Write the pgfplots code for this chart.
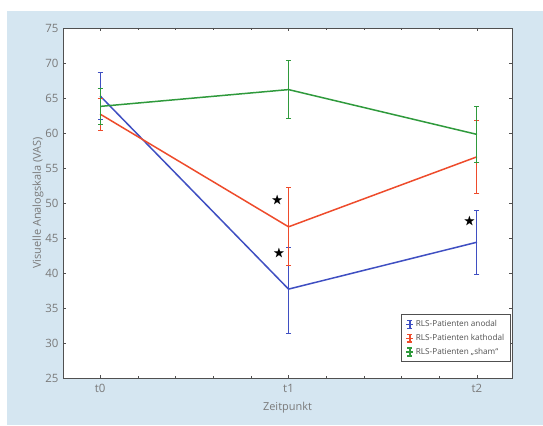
\documentclass[border=0pt]{standalone}
\usepackage{pgfplots}
\pgfplotsset{compat=1.18}
\usepackage{amssymb}
\usepackage{fontspec}
\setmainfont{Open Sans}
\definecolor{bgblue}{HTML}{D5E6F1}
\definecolor{cblue}{HTML}{3F4FC2}
\definecolor{cred}{HTML}{EE4B2B}
\definecolor{cgreen}{HTML}{2F9A3C}
\definecolor{txtgray}{HTML}{7A7A7A}
\definecolor{framegray}{HTML}{505050}
\begin{document}
\begin{tikzpicture}[x=1bp,y=1bp]
\useasboundingbox (0,0) rectangle (543,425);
\fill[white] (0,0) rectangle (543,425);
\fill[bgblue] (7,0) rectangle (543,414);
\begin{axis}[
  at={(63bp,47bp)}, anchor=south west,
  width=449bp, height=350bp, scale only axis,
  axis background/.style={fill=white},
  axis line style={framegray, line width=0.9pt},
  xmin=-0.197, xmax=2.186, ymin=25, ymax=75,
  xtick={0,1,2}, xticklabels={t0,t1,t2},
  ytick={25,30,...,75},
  minor x tick num=4,
  tick style={framegray, line width=0.5pt},
  major tick length=3pt, minor tick length=2pt,
  tick align=inside,
  ticklabel style={font=\fontsize{11.5}{13}\selectfont, text=txtgray},
  yticklabel style={xshift=-1pt},
  xticklabel style={yshift=-3pt},
  /pgf/number format/assume math mode=true,
  xlabel={Zeitpunkt}, ylabel={Visuelle Analogskala (VAS)},
  label style={font=\fontsize{11}{13}\selectfont, text=txtgray},
  xlabel style={yshift=-2pt},
  ylabel style={yshift=-5pt},
  legend style={font=\fontsize{8.2}{9.5}\selectfont, text=framegray, draw=framegray, line width=0.9pt, at={(0.997,0.045)}, anchor=south east, inner sep=4pt, row sep=2pt},
  legend cell align=left,
  legend image code/.code={\draw[#1, line width=1.6pt] (0.1cm,-0.14cm)--(0.1cm,0.14cm) (0.01cm,-0.14cm)--(0.19cm,-0.14cm) (0.01cm,0.14cm)--(0.19cm,0.14cm) (-0.02cm,0cm)--(0.22cm,0cm);},
  error bars/y dir=both, error bars/y explicit,
  error bars/error mark options={rotate=90, mark size=2.5pt, line width=1pt},
  error bars/error bar style={line width=1pt},
]
\addplot[cblue, line width=1.5pt, mark=none] coordinates {
  (0,65.3) += (0,3.3) -= (0,3.3)
  (1,37.7) += (0,5.9) -= (0,6.3)
  (2,44.4) += (0,4.6) -= (0,4.6)
};
\addlegendentry{RLS-Patienten anodal}
\addplot[cred, line width=1.5pt, mark=none] coordinates {
  (0,62.7) += (0,2.3) -= (0,2.3)
  (1,46.6) += (0,5.6) -= (0,5.5)
  (2,56.6) += (0,5.2) -= (0,5.2)
};
\addlegendentry{RLS-Patienten kathodal}
\addplot[cgreen, line width=1.5pt, mark=none] coordinates {
  (0,63.8) += (0,2.6) -= (0,2.6)
  (1,66.2) += (0,4.2) -= (0,4.1)
  (2,59.8) += (0,4.0) -= (0,4.0)
};
\addlegendentry{RLS-Patienten „sham“}
\node at (axis cs:0.94,50.3) {\large$\bigstar$};
\node at (axis cs:0.95,42.8) {\large$\bigstar$};
\node at (axis cs:1.96,47.3) {\large$\bigstar$};
\end{axis}
\end{tikzpicture}
\end{document}
